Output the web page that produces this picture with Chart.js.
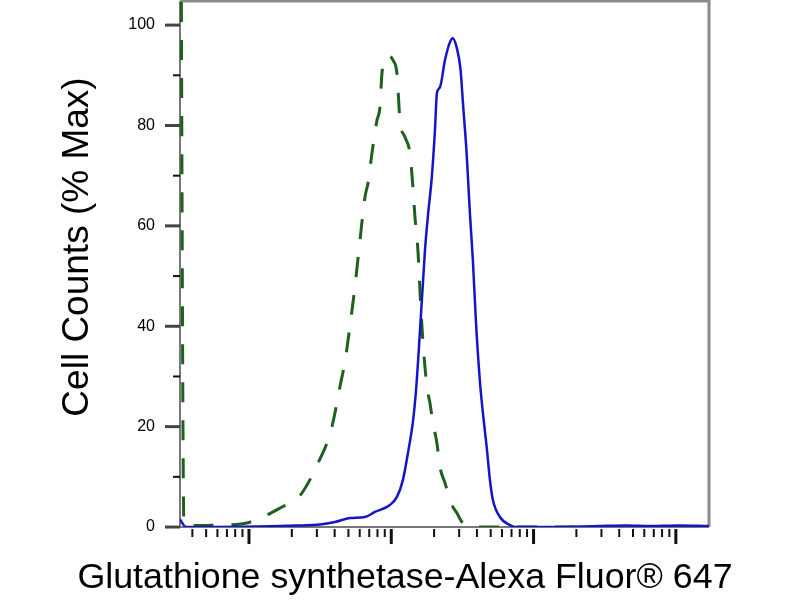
<!DOCTYPE html>
<html>
<head>
<meta charset="utf-8">
<script src="https://cdn.jsdelivr.net/npm/chart.js@4"></script>
<style>
  html, body { margin: 0; padding: 0; background: #fff; }
</style>
</head>
<body>
<canvas id="histo" width="800" height="600"></canvas>
<script>
// datos: muestra (azul) y control (verde, discontinuo)
const blueX = [3.28, 3.61, 21.7, 31.5, 40.2, 51.2, 65.3, 76.8, 97.9, 109.6, 120.8, 130.9, 142, 149.1, 159.1, 172.4, 181, 193.1, 202.7, 209.4, 219.8, 238.4, 258.4, 269.9, 287.9, 307.2, 318.9, 338.5, 357, 374.8, 393.5, 419.8, 440.7, 468, 493.5, 518, 580, 682, 764, 1300, 2900, 4500, 6600, 10500, 17000];
const blueY = [1.5, 0, 0.3, 0.5, 1, 1.8, 2, 3, 4.4, 6, 9.4, 14.7, 21, 27, 39, 55, 62, 70, 79, 86.5, 87.6, 93, 96.6, 97.4, 95.6, 91, 84.5, 74.5, 62.5, 53, 41, 29, 22.7, 16, 9.4, 5.4, 2, 0.4, 0, 0, 0.2, 0.3, 0.2, 0.3, 0.2];

const greenX = [3.3, 3.49, 4.53, 6.26, 7.97, 9.68, 12.5, 17.1, 22.1, 26.8, 30.5, 35.3, 38.3, 41.5, 43.6, 47.3, 51.2, 55.6, 60.2, 65.3, 68.6, 73.2, 79.3, 83.3, 86, 90.3, 94.8, 102.7, 109.6, 115.1, 124.7, 135.3, 142, 146.7, 154, 159.1, 166.9, 178.1, 187, 196.3, 209.4, 219.8, 238.4, 266.9, 289.3, 313.7, 357, 17000];
const greenY = [150, 0.5, 0.3, 0.4, 0.5, 0.8, 2, 4, 5.8, 9.4, 12.7, 16.7, 20, 24.7, 28, 33, 40, 48, 57, 65.7, 68.5, 74.5, 81, 83.7, 90.4, 93, 94, 93, 90.4, 81, 77.7, 74.5, 67.7, 61.8, 55, 47, 37, 28, 24.7, 20.7, 16.7, 12, 8.8, 4.4, 2.8, 1, 0, 0];

// ejes
const xMin = 3.275;
const xMax = 17100;
const xMajorTicks = [10, 100, 1000, 10000];
const yMax = 104.8;
const yTicks = [0, 10, 20, 30, 40, 50, 60, 70, 80, 90, 100];
const yLabels = [0, 20, 40, 60, 80, 100];

const xTitle = 'Glutathione synthetase-Alexa Fluor® 647';
const yTitle = 'Cell Counts (% Max)';
const fontFamily = '"Liberation Sans", Arial, sans-serif';

// marcas menores del eje x (2..9 por década)
const xTickValues = [];
xMajorTicks.forEach((dec) => {
    for (let m = 2; m <= 9; m++) {
        const v = (dec / 10) * m;
        if (v >= xMin && v <= xMax) xTickValues.push(v);
    }
    xTickValues.push(dec);
});
xTickValues.sort((a, b) => a - b);

// sin relleno extra en las escalas
function noPadding(scale) {
    scale.paddingTop = 0;
    scale.paddingBottom = 0;
    scale.paddingLeft = 0;
    scale.paddingRight = 0;
}

// marco gris alrededor del área
const frame = {
    id: 'frame',
    beforeDatasetsDraw(chart) {
        const { ctx, chartArea: a } = chart;
        ctx.save();
        ctx.strokeStyle = '#8a8a8a';
        ctx.lineWidth = 3;
        ctx.beginPath();
        ctx.moveTo(a.left, a.top);
        ctx.lineTo(a.right, a.top);
        ctx.lineTo(a.right, a.bottom);
        ctx.stroke();
        ctx.strokeStyle = '#777';
        ctx.lineWidth = 2;
        ctx.beginPath();
        ctx.moveTo(a.left, a.top);
        ctx.lineTo(a.left, a.bottom);
        ctx.lineTo(a.right, a.bottom);
        ctx.stroke();
        ctx.restore();
    }
};

// marcas de los ejes (mayores más largas) y título vertical
const tickMarks = {
    id: 'tickMarks',
    afterDraw(chart) {
        const { ctx, chartArea: a, scales } = chart;
        ctx.save();
        scales.x.ticks.forEach((t) => {
            const px = scales.x.getPixelForValue(t.value);
            ctx.strokeStyle = '#111';
            ctx.lineWidth = t.major ? 3 : 2;
            ctx.beginPath();
            ctx.moveTo(px, a.bottom + 2);
            ctx.lineTo(px, a.bottom + (t.major ? 17 : 10));
            ctx.stroke();
        });
        scales.y.ticks.forEach((t) => {
            const py = scales.y.getPixelForValue(t.value);
            const major = yLabels.includes(t.value);
            ctx.strokeStyle = major ? '#444' : '#111';
            ctx.lineWidth = major ? 3 : 2;
            ctx.beginPath();
            ctx.moveTo(a.left, py);
            ctx.lineTo(a.left - (major ? 15 : 7), py);
            ctx.stroke();
        });
        // título del eje y
        ctx.translate(78, 247);
        ctx.rotate(-Math.PI / 2);
        ctx.fillStyle = '#000';
        ctx.font = '37px ' + fontFamily;
        ctx.textAlign = 'center';
        ctx.textBaseline = 'middle';
        ctx.fillText(yTitle, 0, 0);
        ctx.restore();
    }
};

const toPoints = (xs, ys) => xs.map((x, i) => ({ x, y: ys[i] }));

const ctx = document.getElementById('histo').getContext('2d');
const chart = new Chart(ctx, {
    type: 'line',
    data: {
        datasets: [{
            label: 'sample',
            data: toPoints(blueX, blueY),
            borderColor: '#1414c8',
            borderWidth: 2.5,
            pointRadius: 0,
            cubicInterpolationMode: 'monotone',
        }, {
            label: 'control',
            data: toPoints(greenX, greenY),
            borderColor: '#1f5f1f',
            borderWidth: 3,
            borderDash: [20, 18],
            pointRadius: 0,
            cubicInterpolationMode: 'monotone',
        }],
    },
    options: {
        responsive: false,
        animation: false,
        devicePixelRatio: 1,
        layout: { padding: { top: 1, right: 0, bottom: 0, left: 10 } },
        plugins: {
            legend: { display: false },
            tooltip: { enabled: false },
            title: {
                display: true,
                position: 'bottom',
                text: xTitle,
                color: '#000',
                font: { family: fontFamily, size: 35.8, weight: 'normal' },
                padding: { top: 0, bottom: 0 },
            },
        },
        scales: {
            x: {
                type: 'logarithmic',
                min: xMin,
                max: xMax,
                afterBuildTicks: (scale) => {
                    scale.ticks = xTickValues.map((v) => ({ value: v, major: xMajorTicks.includes(v) }));
                },
                afterFit: (scale) => { scale.height = 30; noPadding(scale); },
                ticks: { display: false },
                grid: { display: false, drawTicks: false },
                border: { display: false },
            },
            y: {
                min: 0,
                max: yMax,
                afterBuildTicks: (scale) => {
                    scale.ticks = yTicks.map((v) => ({ value: v }));
                },
                afterFit: (scale) => { scale.width = 170; noPadding(scale); },
                ticks: {
                    color: '#000',
                    padding: 25,
                    autoSkip: false,
                    font: { family: fontFamily, size: 16 },
                    callback: (v) => (yLabels.includes(v) ? String(v) : ''),
                },
                grid: { display: false, drawTicks: false },
                border: { display: false },
                title: { display: false, text: yTitle },
            },
            yRight: {
                position: 'right',
                min: 0,
                max: 1,
                afterFit: (scale) => { scale.width = 91; noPadding(scale); },
                ticks: { display: false },
                grid: { display: false, drawTicks: false },
                border: { display: false },
            },
        },
    },
    plugins: [frame, tickMarks],
});
</script>
</body>
</html>
